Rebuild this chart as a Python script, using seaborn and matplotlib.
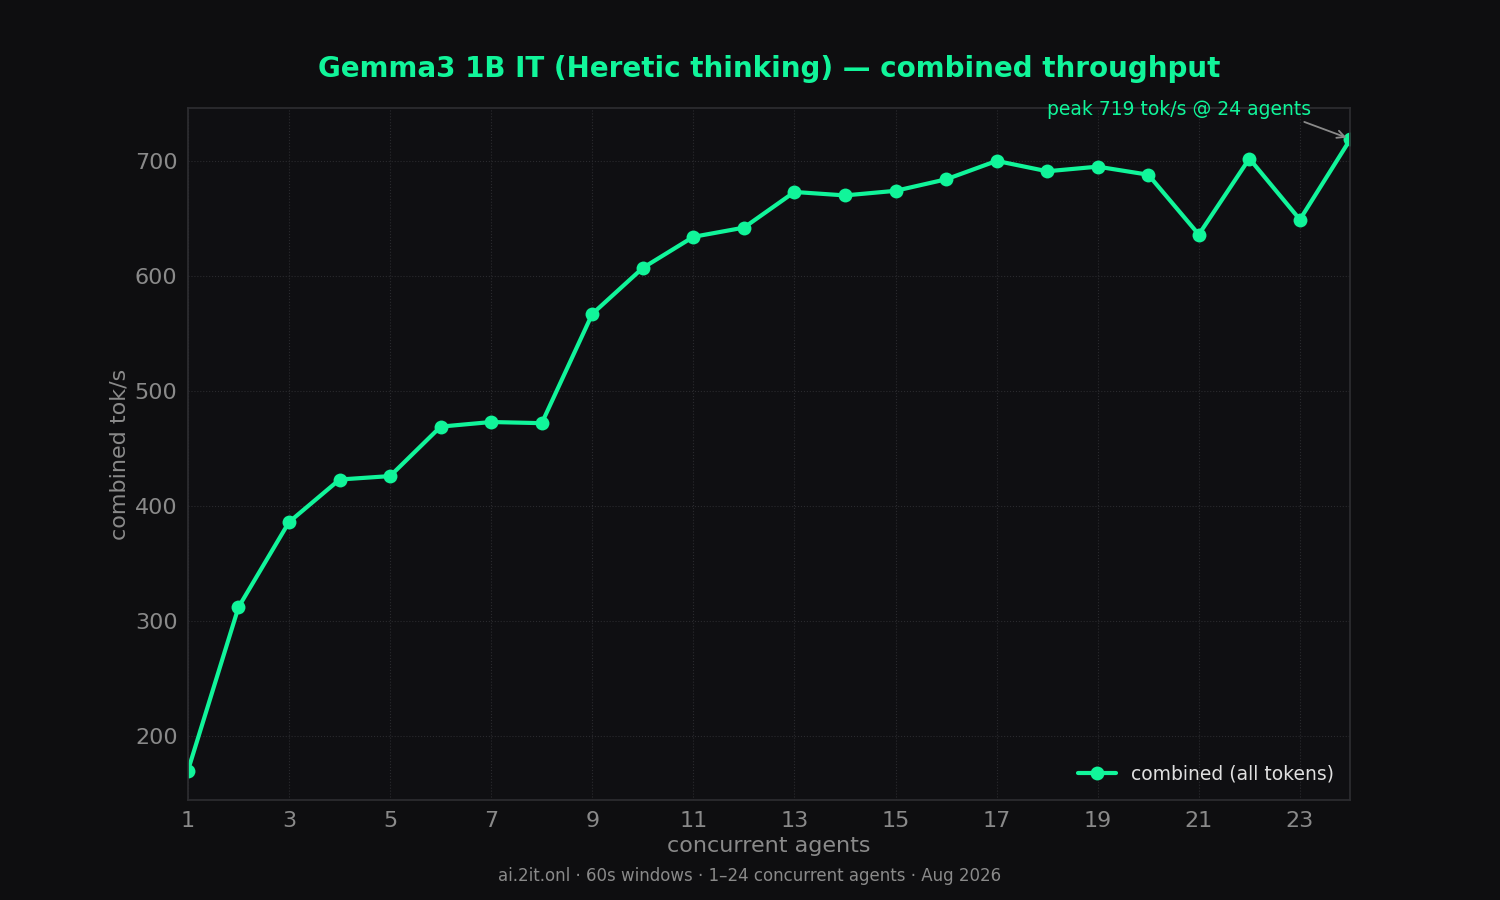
import matplotlib
matplotlib.use("Agg")
import matplotlib.pyplot as plt
import seaborn as sns
import pandas as pd

agents = list(range(1, 25))
combined = [170, 312, 386, 423, 426, 469, 473, 472, 567, 607, 634, 642,
            673, 670, 674, 684, 700, 691, 695, 688, 636, 702, 649, 719]
xticks = [1, 3, 5, 7, 9, 11, 13, 15, 17, 19, 21, 23]
yticks = [200, 300, 400, 500, 600, 700]

sns.set_theme(style="dark")
plt.rcParams['font.family'] = ['DejaVu Sans']
green = "#11f59a"
bg = "#0e0e10"
ax_bg = "#0f0f12"
grey = "#8a8a8a"

fig = plt.figure(figsize=(15, 9), dpi=100, facecolor=bg)
ax = fig.add_axes([0.1253, 0.111, 0.775, 0.769])
ax.set_facecolor(ax_bg)
df = pd.DataFrame({"agents": agents, "combined": combined})
sns.lineplot(data=df, x="agents", y="combined", ax=ax, color=green, lw=3,
             marker="o", markersize=10, markeredgewidth=0, label="combined (all tokens)")
ax.set_xlim(1, 24)
ax.set_ylim(144.3, 746)
ax.set_xticks(xticks)
ax.set_yticks(yticks)
ax.tick_params(colors=grey, labelsize=16, length=4, color="#333333")
ax.grid(True, color="#2a2a2e", linestyle=":", lw=0.8)
for s in ax.spines.values():
    s.set_visible(True)
    s.set_color("#2c2c30")
ax.set_xlabel("concurrent agents", color=grey, fontsize=16)
ax.set_ylabel("combined tok/s", color=grey, fontsize=16)
ax.set_title("Gemma3 1B IT (Heretic thinking) — combined throughput",
             color=green, fontsize=20, fontweight="bold", pad=22)
leg = ax.legend(loc="lower right", frameon=False, fontsize=13.5)
for t in leg.get_texts():
    t.set_color("#e0e0e0")
ax.annotate("peak 719 tok/s @ 24 agents", xy=(24, 719), xytext=(18.0, 745),
            color=green, fontsize=13.5, ha="left", va="center",
            arrowprops=dict(arrowstyle="->", color=grey, lw=1.3,
                            shrinkA=0, shrinkB=3, relpos=(0.94, 0.0)),
            annotation_clip=False)
fig.text(0.5, 0.021, "ai.2it.onl · 60s windows · 1–24 concurrent agents · Aug 2026",
         color=grey, fontsize=12, ha="center")
fig.savefig("out.png", facecolor=bg)
